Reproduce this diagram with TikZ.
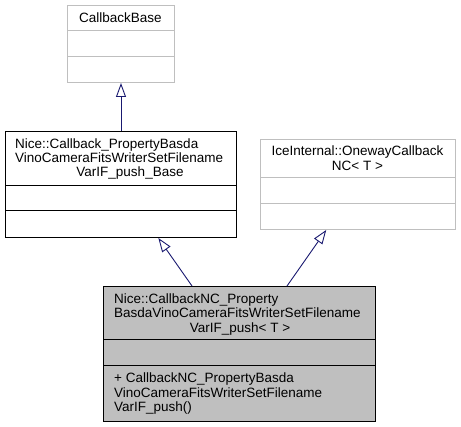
\documentclass[tikz,border=0pt]{standalone}
\usepackage{fontspec}
\setmainfont{Liberation Sans}
\usepackage{tikz}
\usetikzlibrary{arrows.meta,positioning}

\definecolor{edgeblue}{HTML}{191970}
\definecolor{paleframe}{HTML}{BFBFBF}
\definecolor{classfill}{HTML}{BFBFBF}

\begin{document}
\begin{tikzpicture}[x=1pt,y=-1pt,
  every node/.style={font=\fontsize{13.5}{14.5}\selectfont},
  classbox/.style={draw,line width=1pt,anchor=north west,inner sep=0pt},
  lbl/.style={inner sep=0pt,align=left,anchor=north west},
  inherit/.style={draw=edgeblue,line width=0.9pt,-{Triangle[open,length=14pt,width=10pt]}}]
  \useasboundingbox (0,0) rectangle (461,427);

  \node[classbox,draw=paleframe,minimum width=107pt,minimum height=77pt] (cb_base) at (67,5) {};
  \node[lbl,anchor=base] at (120.5,23) {CallbackBase};
  \draw[paleframe,line width=1pt] (67,31) -- (174,31) (67,57) -- (174,57);

  \node[classbox,minimum width=231pt,minimum height=106pt] (cb_push_base) at (5,131) {};
  \node[lbl] at (15,138.3) {Nice::Callback\_PropertyBasda\\VinoCameraFitsWriterSetFilename};
  \node[lbl,anchor=base] at (130,177) {VarIF\_push\_Base};
  \draw[line width=1pt] (5,186) -- (236,186) (5,211) -- (236,211);

  \node[classbox,draw=paleframe,minimum width=195pt,minimum height=90pt] (ice_nc) at (260,139) {};
  \node[lbl,align=center,anchor=north] at (357.5,145.7) {IceInternal::OnewayCallback\\NC< T >};
  \draw[paleframe,line width=1pt] (260,178) -- (455,178) (260,204) -- (455,204);

  \node[classbox,fill=classfill,minimum width=272pt,minimum height=135pt] (cb_nc) at (103,286) {};
  \node[lbl] at (114,293.3) {Nice::CallbackNC\_Property\\BasdaVinoCameraFitsWriterSetFilename};
  \node[lbl,anchor=base] at (240,332.5) {VarIF\_push< T >};
  \draw[line width=1pt] (103,340) -- (375,340) (103,366) -- (375,366);
  \node[lbl] at (114,372.7) {+ CallbackNC\_PropertyBasda\\VinoCameraFitsWriterSetFilename\\VarIF\_push()};

  \draw[inherit] (cb_push_base) -- (cb_base);
  \draw[inherit] (cb_nc) -- (cb_push_base);
  \draw[inherit] (cb_nc) -- (ice_nc);
\end{tikzpicture}
\end{document}
